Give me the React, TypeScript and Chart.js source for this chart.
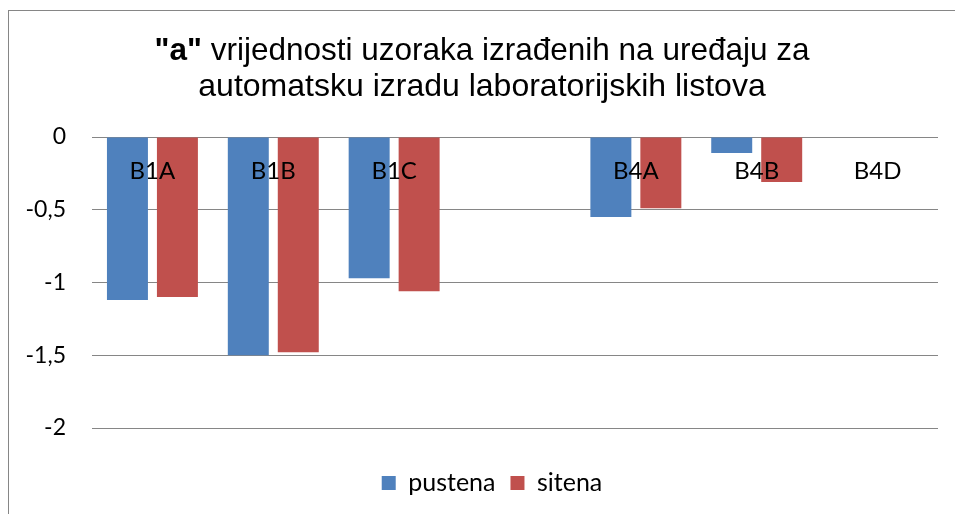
import React, { useEffect, useRef } from "react";
import { Chart, registerables } from "chart.js";

Chart.register(...registerables);

const categories = ["B1A", "B1B", "B1C", "", "B4A", "B4B", "B4D"];
const pustena = [-1.12, -1.5, -0.97, null, -0.55, -0.11, null];
const sitena = [-1.1, -1.48, -1.06, null, -0.49, -0.31, null];
const seriesNames = ["pustena", "sitena"];
const yTicks = [-2, -1.5, -1, -0.5, 0];
const titleBold = '"a"';
const titleRest1 = " vrijednosti uzoraka izrađenih na uređaju za";
const titleLine2 = "automatsku izradu laboratorijskih listova";

const BLUE = "#4F81BD";
const RED = "#C0504D";
const GRID = "#868686";

const titlePlugin = {
  id: "mixedTitle",
  afterLayout(chart: any) {
    if (chart.legend) {
      chart.legend.left = 37;
    }
  },
  afterDraw(chart: any) {
    const ctx = chart.ctx;
    const cx = chart.width / 2;
    ctx.save();
    ctx.fillStyle = "#000";
    ctx.textBaseline = "alphabetic";
    ctx.textAlign = "left";
    const boldFont = 'bold 31.5px "Liberation Sans", Arial, sans-serif';
    const normFont = '31.5px "Liberation Sans", Arial, sans-serif';
    const normFont2 = '32px "Liberation Sans", Arial, sans-serif';
    ctx.font = boldFont;
    const wb = ctx.measureText(titleBold).width;
    ctx.font = normFont;
    const wr = ctx.measureText(titleRest1).width;
    const x = cx - (wb + wr) / 2;
    ctx.font = boldFont;
    ctx.fillText(titleBold, x, 49);
    ctx.font = normFont;
    ctx.fillText(titleRest1, x + wb, 49);
    ctx.font = normFont2;
    const w2 = ctx.measureText(titleLine2).width;
    ctx.fillText(titleLine2, cx - w2 / 2, 85);
    ctx.restore();
  },
};

export default function App() {
  const ref = useRef<HTMLCanvasElement | null>(null);
  useEffect(() => {
    if (!ref.current) return;
    Chart.defaults.font.family = "Lato, sans-serif";
    Chart.defaults.color = "#000";
    const chart = new Chart(ref.current, {
      type: "bar",
      data: {
        labels: categories,
        datasets: [
          { label: seriesNames[0], data: pustena, backgroundColor: BLUE, borderWidth: 0 },
          { label: seriesNames[1], data: sitena, backgroundColor: RED, borderWidth: 0 },
        ],
      },
      options: {
        responsive: false,
        animation: false,
        datasets: { bar: { categoryPercentage: 0.827, barPercentage: 0.82 } },
        layout: { padding: { top: 126, right: 17, bottom: 8.5, left: 0 } },
        plugins: {
          tooltip: { enabled: false },
          title: { display: false },
          legend: {
            position: "bottom",
            labels: {
              boxWidth: 14,
              boxHeight: 14,
              padding: 15,
              color: "#000",
              font: { family: "Lato, sans-serif", size: 25 },
            },
          },
        },
        scales: {
          x: {
            type: "category",
            position: { y: 0 } as any,
            offset: true,
            grid: { display: false, drawTicks: false },
            border: { display: false },
            ticks: {
              z: 1,
              padding: 20,
              maxRotation: 0,
              autoSkip: false,
              color: "#000",
              font: { family: "Lato, sans-serif", size: 24 },
            },
          },
          x2: {
            type: "category",
            position: "bottom",
            grid: { display: false, drawTicks: false },
            border: { display: false },
            ticks: { display: false },
            afterFit: (s: any) => {
              s.height = 27.5;
            },
          },
          y: {
            min: -2,
            max: 0,
            afterFit: (s: any) => {
              s.width = 83;
            },
            afterBuildTicks: (s: any) => {
              s.ticks = yTicks.map((v) => ({ value: v }));
            },
            grid: { color: GRID, lineWidth: 1, drawTicks: false },
            border: { display: false },
            ticks: {
              padding: 26,
              color: "#000",
              font: { family: "Lato, sans-serif", size: 23 },
              callback: (v: any) => String(v).replace(".", ","),
            },
          },
        },
      },
      plugins: [titlePlugin],
    } as any);
    return () => chart.destroy();
  }, []);
  return (
    <div
      style={{
        position: "fixed",
        left: 8,
        top: 10,
        width: 947,
        height: 504,
        boxSizing: "border-box",
        borderLeft: "1px solid " + GRID,
        borderTop: "1px solid " + GRID,
        background: "#fff",
      }}
    >
      <canvas ref={ref} width={946} height={503} style={{ display: "block" }} />
    </div>
  );
}
